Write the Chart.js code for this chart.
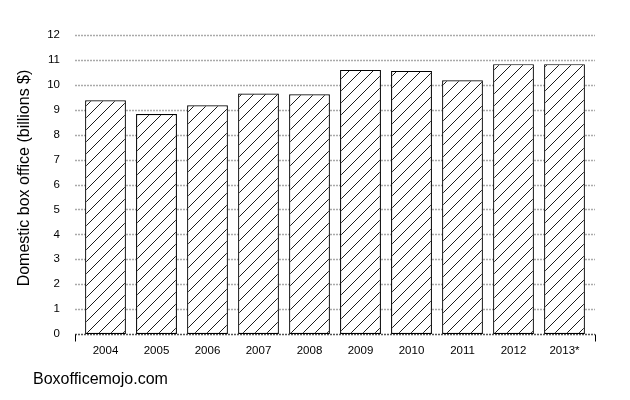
<!DOCTYPE html>
<html>
<head>
<meta charset="utf-8">
<script src="https://cdn.jsdelivr.net/npm/chart.js@4/dist/chart.umd.min.js"></script>
<style>
html,body{margin:0;padding:0;background:#fff;}
#wrap{width:630px;height:400px;position:relative;}
</style>
</head>
<body>
<div id="wrap"><canvas id="c" width="630" height="400"></canvas></div>
<script>
const categories = ["2004","2005","2006","2007","2008","2009","2010","2011","2012","2013*"];
const boxOffice = [9.38, 8.83, 9.18, 9.65, 9.62, 10.6, 10.56, 10.18, 10.83, 10.83];
const yTicks = [0,1,2,3,4,5,6,7,8,9,10,11,12];
const yTitle = "Domestic box office (billions $)";
const sourceText = "Boxofficemojo.com";

function makeHatch(){
  const s = 12;
  const p = document.createElement('canvas');
  p.width = s; p.height = s;
  const g = p.getContext('2d');
  g.fillStyle = '#fff';
  g.fillRect(0,0,s,s);
  g.strokeStyle = '#000';
  g.lineWidth = 0.9;
  g.beginPath();
  g.moveTo(0,s); g.lineTo(s,0);
  g.moveTo(-s/2,s/2); g.lineTo(s/2,-s/2);
  g.moveTo(s/2,s*1.5); g.lineTo(s*1.5,s/2);
  g.stroke();
  return g.createPattern(p,'repeat');
}

const FONT = "'Liberation Sans', Arial, Helvetica, sans-serif";
Chart.defaults.font.family = FONT;
Chart.defaults.color = '#000';

const gridExt = {
  id:'gridExt',
  beforeDatasetsDraw(chart){
    const {ctx, chartArea:a, scales:{y}} = chart;
    const L = a.left - 5, R = a.right + 5;
    ctx.save();
    ctx.lineWidth = 1.5;
    ctx.setLineDash([2,1]);
    y.ticks.forEach(t=>{
      const py = Math.round(y.getPixelForValue(t.value)) + 0.5;
      ctx.strokeStyle = t.value === 0 ? '#555' : '#aaa';
      ctx.beginPath(); ctx.moveTo(L, py); ctx.lineTo(R, py); ctx.stroke();
    });
    ctx.setLineDash([]);
    const py0 = Math.round(y.getPixelForValue(0)) + 0.5;
    ctx.strokeStyle = '#000';
    ctx.lineWidth = 1;
    [L, R].forEach(px=>{
      const x = Math.round(px) + 0.5;
      ctx.beginPath(); ctx.moveTo(x, py0); ctx.lineTo(x, py0 + 7); ctx.stroke();
    });
    ctx.restore();
  },
  afterDraw(chart){
    const ctx = chart.ctx;
    ctx.save();
    ctx.font = "16px " + FONT;
    ctx.fillStyle = '#000';
    ctx.textBaseline = 'middle';
    ctx.textAlign = 'left';
    ctx.fillText(sourceText, 33, 380);
    ctx.translate(25, 178);
    ctx.rotate(-Math.PI/2);
    ctx.textAlign = 'center';
    ctx.fillText(yTitle, 0, 0);
    ctx.restore();
  }
};

const ctx = document.getElementById('c').getContext('2d');
new Chart(ctx, {
  type:'bar',
  data:{
    labels: categories,
    datasets:[{
      data: boxOffice,
      backgroundColor: makeHatch(),
      borderColor:'#000',
      borderWidth:1.2,
      borderSkipped:false,
      categoryPercentage:0.8,
      barPercentage:1.0
    }]
  },
  options:{
    responsive:false,
    animation:false,
    devicePixelRatio:1,
    layout:{padding:{left:0,right:40,top:35,bottom:0}},
    plugins:{legend:{display:false},tooltip:{enabled:false}},
    scales:{
      x:{
        offset:true,
        grid:{display:false},
        border:{display:false},
        ticks:{font:{size:11.5},padding:2,color:'#000',maxRotation:0},
        afterFit(s){ s.height = 66; }
      },
      y:{
        min:0,max:12,
        afterBuildTicks(s){ s.ticks = yTicks.map(v=>({value:v})); },
        grid:{display:false},
        border:{display:false},
        ticks:{font:{size:11.5},padding:12,color:'#000'},
        afterFit(s){ s.width = 80; }
      }
    }
  },
  plugins:[gridExt]
});
</script>
</body>
</html>
